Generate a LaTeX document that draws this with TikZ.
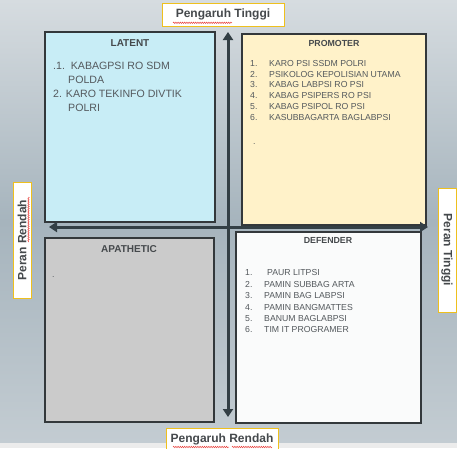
\documentclass[tikz,border=0pt]{standalone}
\usepackage{fontspec}
\setmainfont{Liberation Sans}
\usetikzlibrary{arrows.meta,decorations.pathmorphing}
\definecolor{bgtop}{HTML}{D6DCE0}
\definecolor{bgmid}{HTML}{A6B4BD}
\definecolor{bgbot}{HTML}{C3CCD2}
\definecolor{strip}{HTML}{ECECEC}
\definecolor{latentc}{HTML}{C8EDF6}
\definecolor{promc}{HTML}{FFF2C9}
\definecolor{apac}{HTML}{CBCBCB}
\definecolor{defc}{HTML}{FAFBFB}
\definecolor{axisc}{HTML}{333F45}
\definecolor{boxline}{HTML}{33383B}
\definecolor{labline}{HTML}{EEC01E}
\definecolor{titlec}{HTML}{45494C}
\definecolor{itemc}{HTML}{54595D}
\definecolor{squigc}{HTML}{E8413C}
\begin{document}
\begin{tikzpicture}[x=1pt,y=-1pt,
  quad/.style={draw=boxline,line width=1.1pt,inner sep=0pt,outer sep=0pt},
  lab/.style={draw=labline,fill=white,line width=0.9pt,inner sep=0pt,outer sep=0pt,
    font=\bfseries\fontsize{12}{14}\selectfont,text=titlec},
  bigtitle/.style={font=\bfseries\fontsize{10}{12}\selectfont,text=titlec,inner sep=0pt},
  smalltitle/.style={font=\bfseries\fontsize{8.8}{10}\selectfont,text=titlec,inner sep=0pt},
  bigitem/.style={font=\fontsize{10.6}{12}\selectfont,text=itemc,anchor=west,inner sep=0pt,text height=.72em,text depth=0pt},
  smallitem/.style={font=\fontsize{8.7}{10}\selectfont,text=itemc,anchor=west,inner sep=0pt,text height=.72em,text depth=0pt},
  axis/.style={draw=axisc,line width=3pt,{Triangle[length=8pt,width=10pt]}-{Triangle[length=8pt,width=10pt]}},
  squig/.style={draw=squigc,line width=0.5pt,decorate,decoration={snake,segment length=2.2pt,amplitude=0.7pt}}
]
\useasboundingbox (0,0) rectangle (457,448);
% background
\shade[top color=bgtop,bottom color=bgbot,middle color=bgmid] (0,0) rectangle (457,443);
\fill[strip] (0,443) rectangle (457,448);

% quadrants
\node[quad,fill=latentc,minimum width=170pt,minimum height=190pt] (latent) at (130,127) {};
\node[quad,fill=promc,minimum width=184pt,minimum height=191pt] (promoter) at (334,129.5) {};
\node[quad,fill=apac,minimum width=169pt,minimum height=184pt] (apathetic) at (129.5,330) {};
\node[quad,fill=defc,minimum width=185pt,minimum height=191pt] (defender) at (328.5,327.5) {};

% titles
\node[bigtitle] (tlatent) at (130,43) {LATENT};
\node[smalltitle] (tprom) at (334,43) {PROMOTER};
\node[bigtitle] (tapa) at (129,249) {APATHETIC};
\node[smalltitle] (tdef) at (328,240) {DEFENDER};

% latent items
\node[bigitem] (l1) at (53,66) {.1.\ \ KABAGPSI RO SDM};
\node[bigitem] (l1b) at (68,80) {POLDA};
\node[bigitem] (l2) at (53,94) {2. KARO TEKINFO DIVTIK};
\node[bigitem] (l2b) at (68,108) {POLRI};

% promoter items
\foreach \i/\yy/\t in {1/63/KARO PSI SSDM POLRI,
                       2/73.7/PSIKOLOG KEPOLISIAN UTAMA,
                       3/84.3/KABAG LABPSI RO PSI,
                       4/95.3/KABAG PSIPERS RO PSI,
                       5/106/KABAG PSIPOL RO PSI,
                       6/116.7/KASUBBAGARTA BAGLABPSI}{
  \node[smallitem] (pn\i) at (250,\yy) {\i.};
  \node[smallitem] (pt\i) at (269,\yy) {\t};
}
\node[smallitem] (pdot) at (253,141) {.};

% apathetic dot
\node[smallitem] (adot) at (52,274) {.};

% defender items
\node[smallitem] (dn1) at (245,272) {1.};
\node[smallitem] (dt1) at (267,272) {PAUR LITPSI};
\foreach \i/\yy/\t in {2/283.7/PAMIN SUBBAG ARTA,
                       3/295.3/PAMIN BAG LABPSI,
                       4/307/PAMIN BANGMATTES,
                       5/318/BANUM BAGLABPSI,
                       6/329/TIM IT PROGRAMER}{
  \node[smallitem] (dn\i) at (245,\yy) {\i.};
  \node[smallitem] (dt\i) at (264,\yy) {\t};
}

% axes
\coordinate (vtop) at (228,32);
\coordinate (vbot) at (228,417);
\coordinate (hleft) at (49,227);
\coordinate (hright) at (428,227);
\draw[axis] (vtop) -- (vbot);
\draw[axis] (hleft) -- (hright);

% axis labels
\node[lab,minimum width=122pt,minimum height=23pt] (ptinggi) at (223,14.5) {Pengaruh Tinggi};
\node[lab,minimum width=112pt,minimum height=22pt] (prendah) at (222,439) {Pengaruh Rendah};
\node[lab,rotate=90,minimum width=116pt,minimum height=18pt] (perrendah) at (22,240) {Peran Rendah};
\node[lab,rotate=-90,minimum width=124pt,minimum height=18pt] (pertinggi) at (447,250) {Peran Tinggi};

% spell-check squiggles
\draw[squig] (173,22.8) -- (232,22.8);
\draw[squig] (173,447) -- (229,447);
\draw[squig] (232,447) -- (272,447);
\draw[squig] (28.5,197) -- (28.5,242);
\end{tikzpicture}
\end{document}
